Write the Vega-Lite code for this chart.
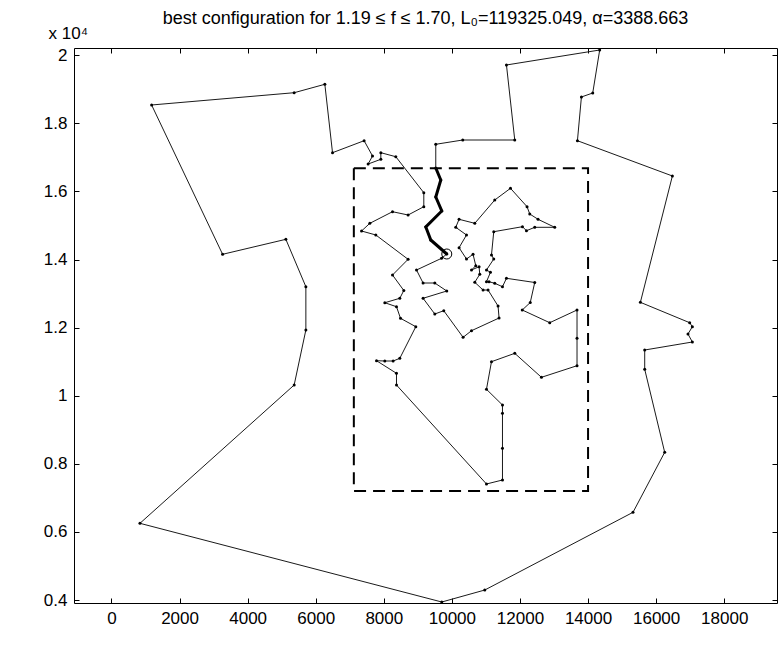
{
 "$schema": "https://vega.github.io/schema/vega-lite/v6.json",
 "width": 703, "height": 555, "autosize": "none",
 "padding": {"left": 74, "top": 48, "right": 3, "bottom": 57},
 "background": "white",
 "config": {
  "view": {"stroke": "#000", "strokeWidth": 1},
  "font": "Liberation Sans",
  "axis": {"grid": false, "domain": false, "tickColor": "#000", "labelColor": "#000", "labelFont": "Liberation Sans", "labelFontSize": 17, "titleColor": "#000", "titleFont": "Liberation Sans"}
 },
 "title": {"text": "best configuration for 1.19 ≤ f ≤ 1.70, L₀=119325.049, α=3388.663", "font": "Liberation Sans", "fontSize": 18, "fontWeight": "normal", "color": "#000", "offset": -4, "anchor": "middle", "frame": "group"},
 "datasets": {
  "window": [{"x1": 7120, "x2": 14000, "y1": 7200, "y2": 16680}],
  "start": [{"x": 9850, "y": 14162}],
  "tour": [
   {"i":1,"x":9850,"y":14162,"bold":false},
   {"i":2,"x":9695,"y":14035,"bold":false},
   {"i":3,"x":8961,"y":13692,"bold":false},
   {"i":4,"x":9154,"y":13310,"bold":false},
   {"i":5,"x":9498,"y":13310,"bold":false},
   {"i":6,"x":9850,"y":13075,"bold":false},
   {"i":7,"x":9154,"y":12861,"bold":false},
   {"i":8,"x":9498,"y":12400,"bold":false},
   {"i":9,"x":9762,"y":12496,"bold":false},
   {"i":10,"x":10329,"y":11715,"bold":false},
   {"i":11,"x":10576,"y":11909,"bold":false},
   {"i":12,"x":11386,"y":12282,"bold":false},
   {"i":13,"x":11356,"y":12634,"bold":false},
   {"i":14,"x":11063,"y":13104,"bold":false},
   {"i":15,"x":10916,"y":13104,"bold":false},
   {"i":16,"x":10673,"y":13331,"bold":false},
   {"i":17,"x":10819,"y":13566,"bold":false},
   {"i":18,"x":10799,"y":13789,"bold":false},
   {"i":19,"x":10576,"y":13692,"bold":false},
   {"i":20,"x":10702,"y":13818,"bold":false},
   {"i":21,"x":10622,"y":14153,"bold":false},
   {"i":22,"x":10429,"y":14015,"bold":false},
   {"i":23,"x":10211,"y":14347,"bold":false},
   {"i":24,"x":10429,"y":14720,"bold":false},
   {"i":25,"x":10114,"y":14946,"bold":false},
   {"i":26,"x":10211,"y":15181,"bold":false},
   {"i":27,"x":10673,"y":15063,"bold":false},
   {"i":28,"x":11260,"y":15748,"bold":false},
   {"i":29,"x":11721,"y":16091,"bold":false},
   {"i":30,"x":12208,"y":15551,"bold":false},
   {"i":31,"x":12287,"y":15337,"bold":false},
   {"i":32,"x":12531,"y":15181,"bold":false},
   {"i":33,"x":13021,"y":14946,"bold":false},
   {"i":34,"x":12434,"y":14946,"bold":false},
   {"i":35,"x":12190,"y":14846,"bold":false},
   {"i":36,"x":12073,"y":14964,"bold":false},
   {"i":37,"x":11230,"y":14817,"bold":false},
   {"i":38,"x":11163,"y":14132,"bold":false},
   {"i":39,"x":11230,"y":14015,"bold":false},
   {"i":40,"x":11016,"y":13692,"bold":false},
   {"i":41,"x":11133,"y":13624,"bold":false},
   {"i":42,"x":11016,"y":13348,"bold":false},
   {"i":43,"x":11092,"y":13348,"bold":false},
   {"i":44,"x":11260,"y":13301,"bold":false},
   {"i":45,"x":11486,"y":13201,"bold":false},
   {"i":46,"x":11603,"y":13448,"bold":false},
   {"i":47,"x":12434,"y":13325,"bold":false},
   {"i":48,"x":12302,"y":12737,"bold":false},
   {"i":49,"x":12067,"y":12517,"bold":false},
   {"i":50,"x":12874,"y":12144,"bold":false},
   {"i":51,"x":13676,"y":12517,"bold":false},
   {"i":52,"x":13676,"y":11686,"bold":false},
   {"i":53,"x":13676,"y":10881,"bold":false},
   {"i":54,"x":12631,"y":10540,"bold":false},
   {"i":55,"x":11847,"y":11245,"bold":false},
   {"i":56,"x":11163,"y":10999,"bold":false},
   {"i":57,"x":11016,"y":10188,"bold":false},
   {"i":58,"x":11486,"y":9727,"bold":false},
   {"i":59,"x":11486,"y":9483,"bold":false},
   {"i":60,"x":11486,"y":8455,"bold":false},
   {"i":61,"x":11486,"y":7524,"bold":false},
   {"i":62,"x":11016,"y":7407,"bold":false},
   {"i":63,"x":8373,"y":10314,"bold":false},
   {"i":64,"x":8373,"y":10658,"bold":false},
   {"i":65,"x":7786,"y":11028,"bold":false},
   {"i":66,"x":8030,"y":11019,"bold":false},
   {"i":67,"x":8274,"y":11019,"bold":false},
   {"i":68,"x":8470,"y":11098,"bold":false},
   {"i":69,"x":8940,"y":12027,"bold":false},
   {"i":70,"x":8491,"y":12273,"bold":false},
   {"i":71,"x":8373,"y":12614,"bold":false},
   {"i":72,"x":8030,"y":12731,"bold":false},
   {"i":73,"x":8470,"y":12861,"bold":false},
   {"i":74,"x":8588,"y":13090,"bold":false},
   {"i":75,"x":8256,"y":13545,"bold":false},
   {"i":76,"x":8714,"y":14006,"bold":false},
   {"i":77,"x":7766,"y":14720,"bold":false},
   {"i":78,"x":7346,"y":14837,"bold":false},
   {"i":79,"x":7590,"y":15063,"bold":false},
   {"i":80,"x":8256,"y":15404,"bold":false},
   {"i":81,"x":8714,"y":15307,"bold":false},
   {"i":82,"x":9175,"y":15551,"bold":false},
   {"i":83,"x":9175,"y":15962,"bold":false},
   {"i":84,"x":8353,"y":17019,"bold":false},
   {"i":85,"x":7913,"y":17137,"bold":false},
   {"i":86,"x":7913,"y":16943,"bold":false},
   {"i":87,"x":7540,"y":16805,"bold":false},
   {"i":88,"x":7669,"y":17040,"bold":false},
   {"i":89,"x":7422,"y":17489,"bold":false},
   {"i":90,"x":6494,"y":17137,"bold":false},
   {"i":91,"x":6268,"y":19146,"bold":false},
   {"i":92,"x":5367,"y":18899,"bold":false},
   {"i":93,"x":1180,"y":18538,"bold":false},
   {"i":94,"x":3265,"y":14153,"bold":false},
   {"i":95,"x":5123,"y":14593,"bold":false},
   {"i":96,"x":5711,"y":13201,"bold":false},
   {"i":97,"x":5711,"y":11930,"bold":false},
   {"i":98,"x":5367,"y":10314,"bold":false},
   {"i":99,"x":837,"y":6252,"bold":false},
   {"i":100,"x":9703,"y":3941,"bold":false},
   {"i":101,"x":10966,"y":4293,"bold":false},
   {"i":102,"x":15320,"y":6575,"bold":false},
   {"i":103,"x":16251,"y":8338,"bold":false},
   {"i":104,"x":15664,"y":10775,"bold":false},
   {"i":105,"x":15664,"y":11342,"bold":false},
   {"i":106,"x":17064,"y":11577,"bold":false},
   {"i":107,"x":16935,"y":11812,"bold":false},
   {"i":108,"x":17064,"y":12027,"bold":false},
   {"i":109,"x":16985,"y":12144,"bold":false},
   {"i":110,"x":15537,"y":12743,"bold":false},
   {"i":111,"x":16477,"y":16453,"bold":false},
   {"i":112,"x":13688,"y":17489,"bold":false},
   {"i":113,"x":13805,"y":18773,"bold":false},
   {"i":114,"x":14137,"y":18890,"bold":false},
   {"i":115,"x":14342,"y":20153,"bold":false},
   {"i":116,"x":11603,"y":19713,"bold":false},
   {"i":117,"x":11847,"y":17510,"bold":false},
   {"i":118,"x":10320,"y":17510,"bold":false},
   {"i":119,"x":9527,"y":17384,"bold":false},
   {"i":120,"x":9527,"y":16687,"bold":true},
   {"i":121,"x":9674,"y":16335,"bold":true},
   {"i":122,"x":9527,"y":15836,"bold":true},
   {"i":123,"x":9703,"y":15425,"bold":true},
   {"i":124,"x":9234,"y":14955,"bold":true},
   {"i":125,"x":9380,"y":14573,"bold":true},
   {"i":126,"x":9850,"y":14162,"bold":true}
  ]
 },
 "resolve": {"axis": {"x": "independent", "y": "independent"}},
 "layer": [
  {
   "data": {"name": "window"},
   "mark": {"type": "rect", "filled": false, "stroke": "#000", "strokeWidth": 2, "strokeDash": [12, 7]},
   "encoding": {
    "x": {"field": "x1", "type": "quantitative", "scale": {"domain": [-1100, 19550], "nice": false, "zero": false},
     "axis": {"orient": "bottom", "values": [0,2000,4000,6000,8000,10000,12000,14000,16000,18000], "format": "d", "tickSize": -5, "labelPadding": 12, "labelAngle": 0, "title": null}},
    "x2": {"field": "x2"},
    "y": {"field": "y1", "type": "quantitative", "scale": {"domain": [3912, 20212], "nice": false, "zero": false},
     "axis": {"orient": "left", "values": [4000,6000,8000,10000,12000,14000,16000,18000,20000], "labelExpr": "toString(round(datum.value/1000)/10)", "tickSize": -5, "labelPadding": 12, "title": "x 10⁴", "titleAngle": 0, "titleAlign": "left", "titleBaseline": "alphabetic", "titleX": -26, "titleY": -10, "titleFontSize": 17, "titleFontWeight": "normal"}},
    "y2": {"field": "y2"}
   }
  },
  {
   "data": {"name": "tour"},
   "mark": {"type": "line", "color": "#1a1a1a", "strokeWidth": 1},
   "encoding": {
    "x": {"field": "x", "type": "quantitative", "axis": {"orient": "top", "values": [0,2000,4000,6000,8000,10000,12000,14000,16000,18000], "tickSize": -5, "labels": false, "title": null}},
    "y": {"field": "y", "type": "quantitative", "axis": {"orient": "right", "values": [4000,6000,8000,10000,12000,14000,16000,18000,20000], "tickSize": -5, "labels": false, "title": null}},
    "order": {"field": "i"}
   }
  },
  {
   "data": {"name": "tour"},
   "transform": [{"filter": "datum.bold"}],
   "mark": {"type": "line", "color": "#000", "strokeWidth": 3},
   "encoding": {
    "x": {"field": "x", "type": "quantitative", "axis": null},
    "y": {"field": "y", "type": "quantitative", "axis": null},
    "order": {"field": "i"}
   }
  },
  {
   "data": {"name": "tour"},
   "mark": {"type": "point", "filled": true, "size": 9, "color": "#000", "opacity": 1},
   "encoding": {
    "x": {"field": "x", "type": "quantitative", "axis": null},
    "y": {"field": "y", "type": "quantitative", "axis": null}
   }
  },
  {
   "data": {"name": "start"},
   "mark": {"type": "point", "filled": false, "size": 100, "color": "#000", "strokeWidth": 1, "opacity": 1},
   "encoding": {
    "x": {"field": "x", "type": "quantitative", "axis": null},
    "y": {"field": "y", "type": "quantitative", "axis": null}
   }
  }
 ]
}
